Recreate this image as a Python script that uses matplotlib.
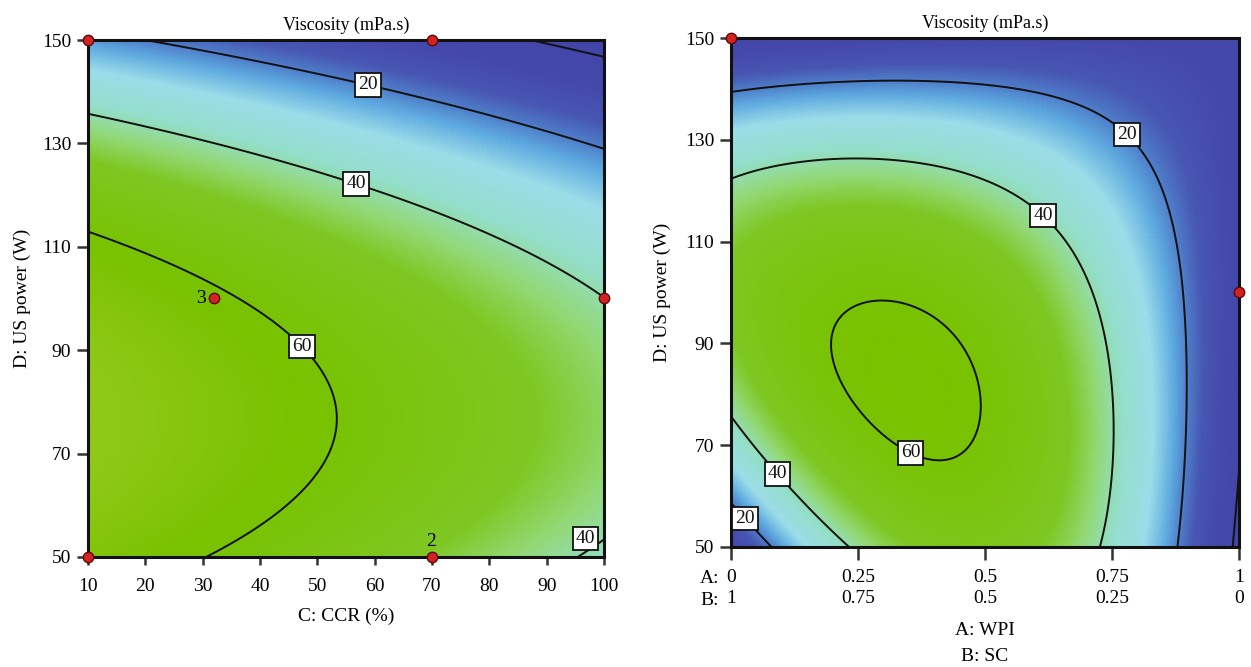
import numpy as np
import matplotlib
matplotlib.use('Agg')
import matplotlib.pyplot as plt
from matplotlib.colors import LinearSegmentedColormap

plt.rcParams.update({'font.family': 'Liberation Serif', 'font.size': 14})

# ---- left panel: points (C: CCR %, D: US power W)
l0_c = [82, 100]
l0_d = [150, 146]
l20_c = [19, 43, 59, 78, 100]
l20_d = [150, 144.6, 142.3, 135.5, 128]
l40_c = [10, 43, 57, 78, 100, 96, 100]
l40_d = [135.7, 127.4, 123, 114.8, 100, 50, 53.3]
l60_c = [10, 32, 47.5, 52.3, 50, 43, 31.4]
l60_d = [113.6, 101, 91.2, 76.5, 66.2, 58.5, 50]
# rough values estimated from the shading
lest_c = [10, 55, 100, 100]
lest_d = [78, 77, 76, 150]
lest_v = [72, 59, 45, -2]

# ---- right panel: A: WPI fraction (B = 1 - A), D: US power
r0_a = [0.993, 1.0]
r0_d = [50, 69]
r20_a = [0, 0.35, 0.585, 0.703, 0.803, 0.845, 0.88, 0.888, 0.883, 0.881, 0, 0.036, 0.072]
r20_d = [139.1, 141.4, 140.3, 137.2, 133.6, 125.4, 114.9, 98.5, 72.3, 50, 59, 55.5, 50]
r40_a = [0.0035, 0.224, 0.428, 0.623, 0.671, 0.711, 0.746, 0.752, 0.730, 0.0035, 0.1, 0.224]
r40_d = [122.7, 125.6, 124.1, 116.1, 110.3, 98.5, 78.9, 69, 50, 73.6, 65.1, 50]
r60_a = [0.287, 0.35, 0.429, 0.476, 0.413, 0.364, 0.335, 0.224, 0.193]
r60_d = [97.5, 96, 90.7, 77.6, 67.1, 70.6, 69.4, 82.8, 90]
rest_a = [0.33, 0, 1, 0, 1, 0.5, 0.5]
rest_d = [82, 98, 150, 150, 100, 50, 150]
rest_v = [63, 51, 3, 3, 3, 53, 5]

# design points
ldes_c = [10, 70, 100, 32, 70, 10]
ldes_d = [150, 150, 100, 100, 50, 50]
rdes_a = [0, 1]
rdes_d = [150, 100]

levels = [0, 20, 40, 60]


def collect(groups, est):
    xs, ys, vs = [], [], []
    for lev, gx, gy in groups:
        xs += gx
        ys += gy
        vs += [lev] * len(gx)
    xs += est[0]
    ys += est[1]
    vs += est[2]
    return np.array(xs, float), np.array(ys, float), np.array(vs, float)


def basis(u, w, full):
    cols = [np.ones_like(u), u, w, u * u, w * w, u * w]
    if full:
        cols += [u * u * w, u * w * w, u * u * w * w]
    return np.stack(cols, axis=-1)


def fit_surface(xs, ys, vs, xr, yr, full):
    u = (xs - xr[0]) / (xr[1] - xr[0]) * 2 - 1
    w = (ys - yr[0]) / (yr[1] - yr[0]) * 2 - 1
    coef, *_ = np.linalg.lstsq(basis(u, w, full), vs, rcond=None)
    gx = np.linspace(xr[0], xr[1], 300)
    gy = np.linspace(yr[0], yr[1], 300)
    X, Y = np.meshgrid(gx, gy)
    U = (X - xr[0]) / (xr[1] - xr[0]) * 2 - 1
    W = (Y - yr[0]) / (yr[1] - yr[0]) * 2 - 1
    return X, Y, basis(U, W, full) @ coef


vmin, vmax = -10, 75
stops = [(-10, '#4044a6'), (8, '#4549ab'), (15, '#4857b3'), (20, '#4f80cb'),
         (24, '#5fabe0'), (30, '#9cdde9'), (38, '#94dfcb'), (44, '#92d872'),
         (49, '#7fc824'), (62, '#78c200'), (75, '#98cb20')]
cmap = LinearSegmentedColormap.from_list(
    'visc', [((v - vmin) / (vmax - vmin), c) for v, c in stops])

fig = plt.figure(figsize=(12.51, 6.67), dpi=100)
ax1 = fig.add_axes([0.0703, 0.165, 0.4125, 0.775])
ax2 = fig.add_axes([0.5843, 0.180, 0.4061, 0.763])


def draw(ax, X, Y, Z, xr, label_pos, ypad):
    ax.imshow(Z, extent=[xr[0], xr[1], 50, 150], origin='lower', aspect='auto',
              cmap=cmap, vmin=vmin, vmax=vmax, interpolation='bilinear')
    cs = ax.contour(X, Y, Z, levels=levels, colors='#111111', linewidths=1.4)
    labs = ax.clabel(cs, fmt='%d', manual=label_pos, inline=False, fontsize=14)
    for t in labs:
        t.set_rotation(0)
        t.set_bbox(dict(boxstyle='square,pad=0.16', fc='white', ec='#111111', lw=1.3))
        t.set_zorder(6)
    ax.set_xlim(*xr)
    ax.set_ylim(50, 150)
    ax.set_yticks([50, 70, 90, 110, 130, 150])
    for s in ax.spines.values():
        s.set_linewidth(2.2)
        s.set_color('#111111')
    ax.tick_params(direction='out', width=1.8, color='#333333')
    ax.tick_params(axis='y', length=8, pad=4)
    ax.set_title('Viscosity (mPa.s)', pad=7, fontsize=13)
    ax.set_ylabel('D: US power (W)', labelpad=ypad, fontsize=14)
    return labs


# left panel
xs, ys, vs = collect([(0, l0_c, l0_d), (20, l20_c, l20_d), (40, l40_c, l40_d),
                      (60, l60_c, l60_d)], (lest_c, lest_d, lest_v))
X, Y, Z = fit_surface(xs, ys, vs, (10, 100), (50, 150), False)
labs = draw(ax1, X, Y, Z, (10, 100), [(59, 142.3), (57, 123), (47.5, 91), (98, 52.5)], 8)
labs[-1].set_position((96.8, 53.6))
ax1.set_xticks(range(10, 101, 10))
ax1.tick_params(axis='x', length=6, pad=9)
ax1.set_xlabel('C: CCR (%)', labelpad=9)
ax1.plot(ldes_c, ldes_d, 'o', ms=7.5, mfc='#d42222', mec='#5a0a0a', mew=1,
         clip_on=False, zorder=7)
ax1.annotate('3', (32, 100), xytext=(-6, 0), textcoords='offset points',
             ha='right', va='center')
ax1.annotate('2', (70, 50), xytext=(-1, 5), textcoords='offset points',
             ha='center', va='bottom')

# right panel
xs, ys, vs = collect([(0, r0_a, r0_d), (20, r20_a, r20_d), (40, r40_a, r40_d),
                      (60, r60_a, r60_d)], (rest_a, rest_d, rest_v))
X, Y, Z = fit_surface(xs, ys, vs, (0, 1), (50, 150), True)
draw(ax2, X, Y, Z, (0, 1), [(0.803, 133.6), (0.623, 116.1), (0.364, 70.6),
                            (0.1, 65.1), (0.036, 56.3)], 10)
a_ticks = [0, 0.25, 0.5, 0.75, 1]
ax2.set_xticks(a_ticks)
ax2.set_xticklabels(['%g\n%g' % (a, 1 - a) for a in a_ticks], linespacing=1.3)
ax2.tick_params(axis='x', length=9.5, pad=6.5)
ax2.annotate('A:', (0, 0), xycoords=('data', 'axes fraction'), xytext=(-8.5, -22.5),
             textcoords='offset points', ha='right', va='center')
ax2.annotate('B:', (0, 0), xycoords=('data', 'axes fraction'), xytext=(-8.5, -38.8),
             textcoords='offset points', ha='right', va='center')
ax2.set_xlabel('A: WPI\nB: SC', labelpad=11, linespacing=1.65)
ax2.plot(rdes_a, rdes_d, 'o', ms=7.5, mfc='#d42222', mec='#5a0a0a', mew=1,
         clip_on=False, zorder=7)

fig.savefig('out.png', dpi=100)
